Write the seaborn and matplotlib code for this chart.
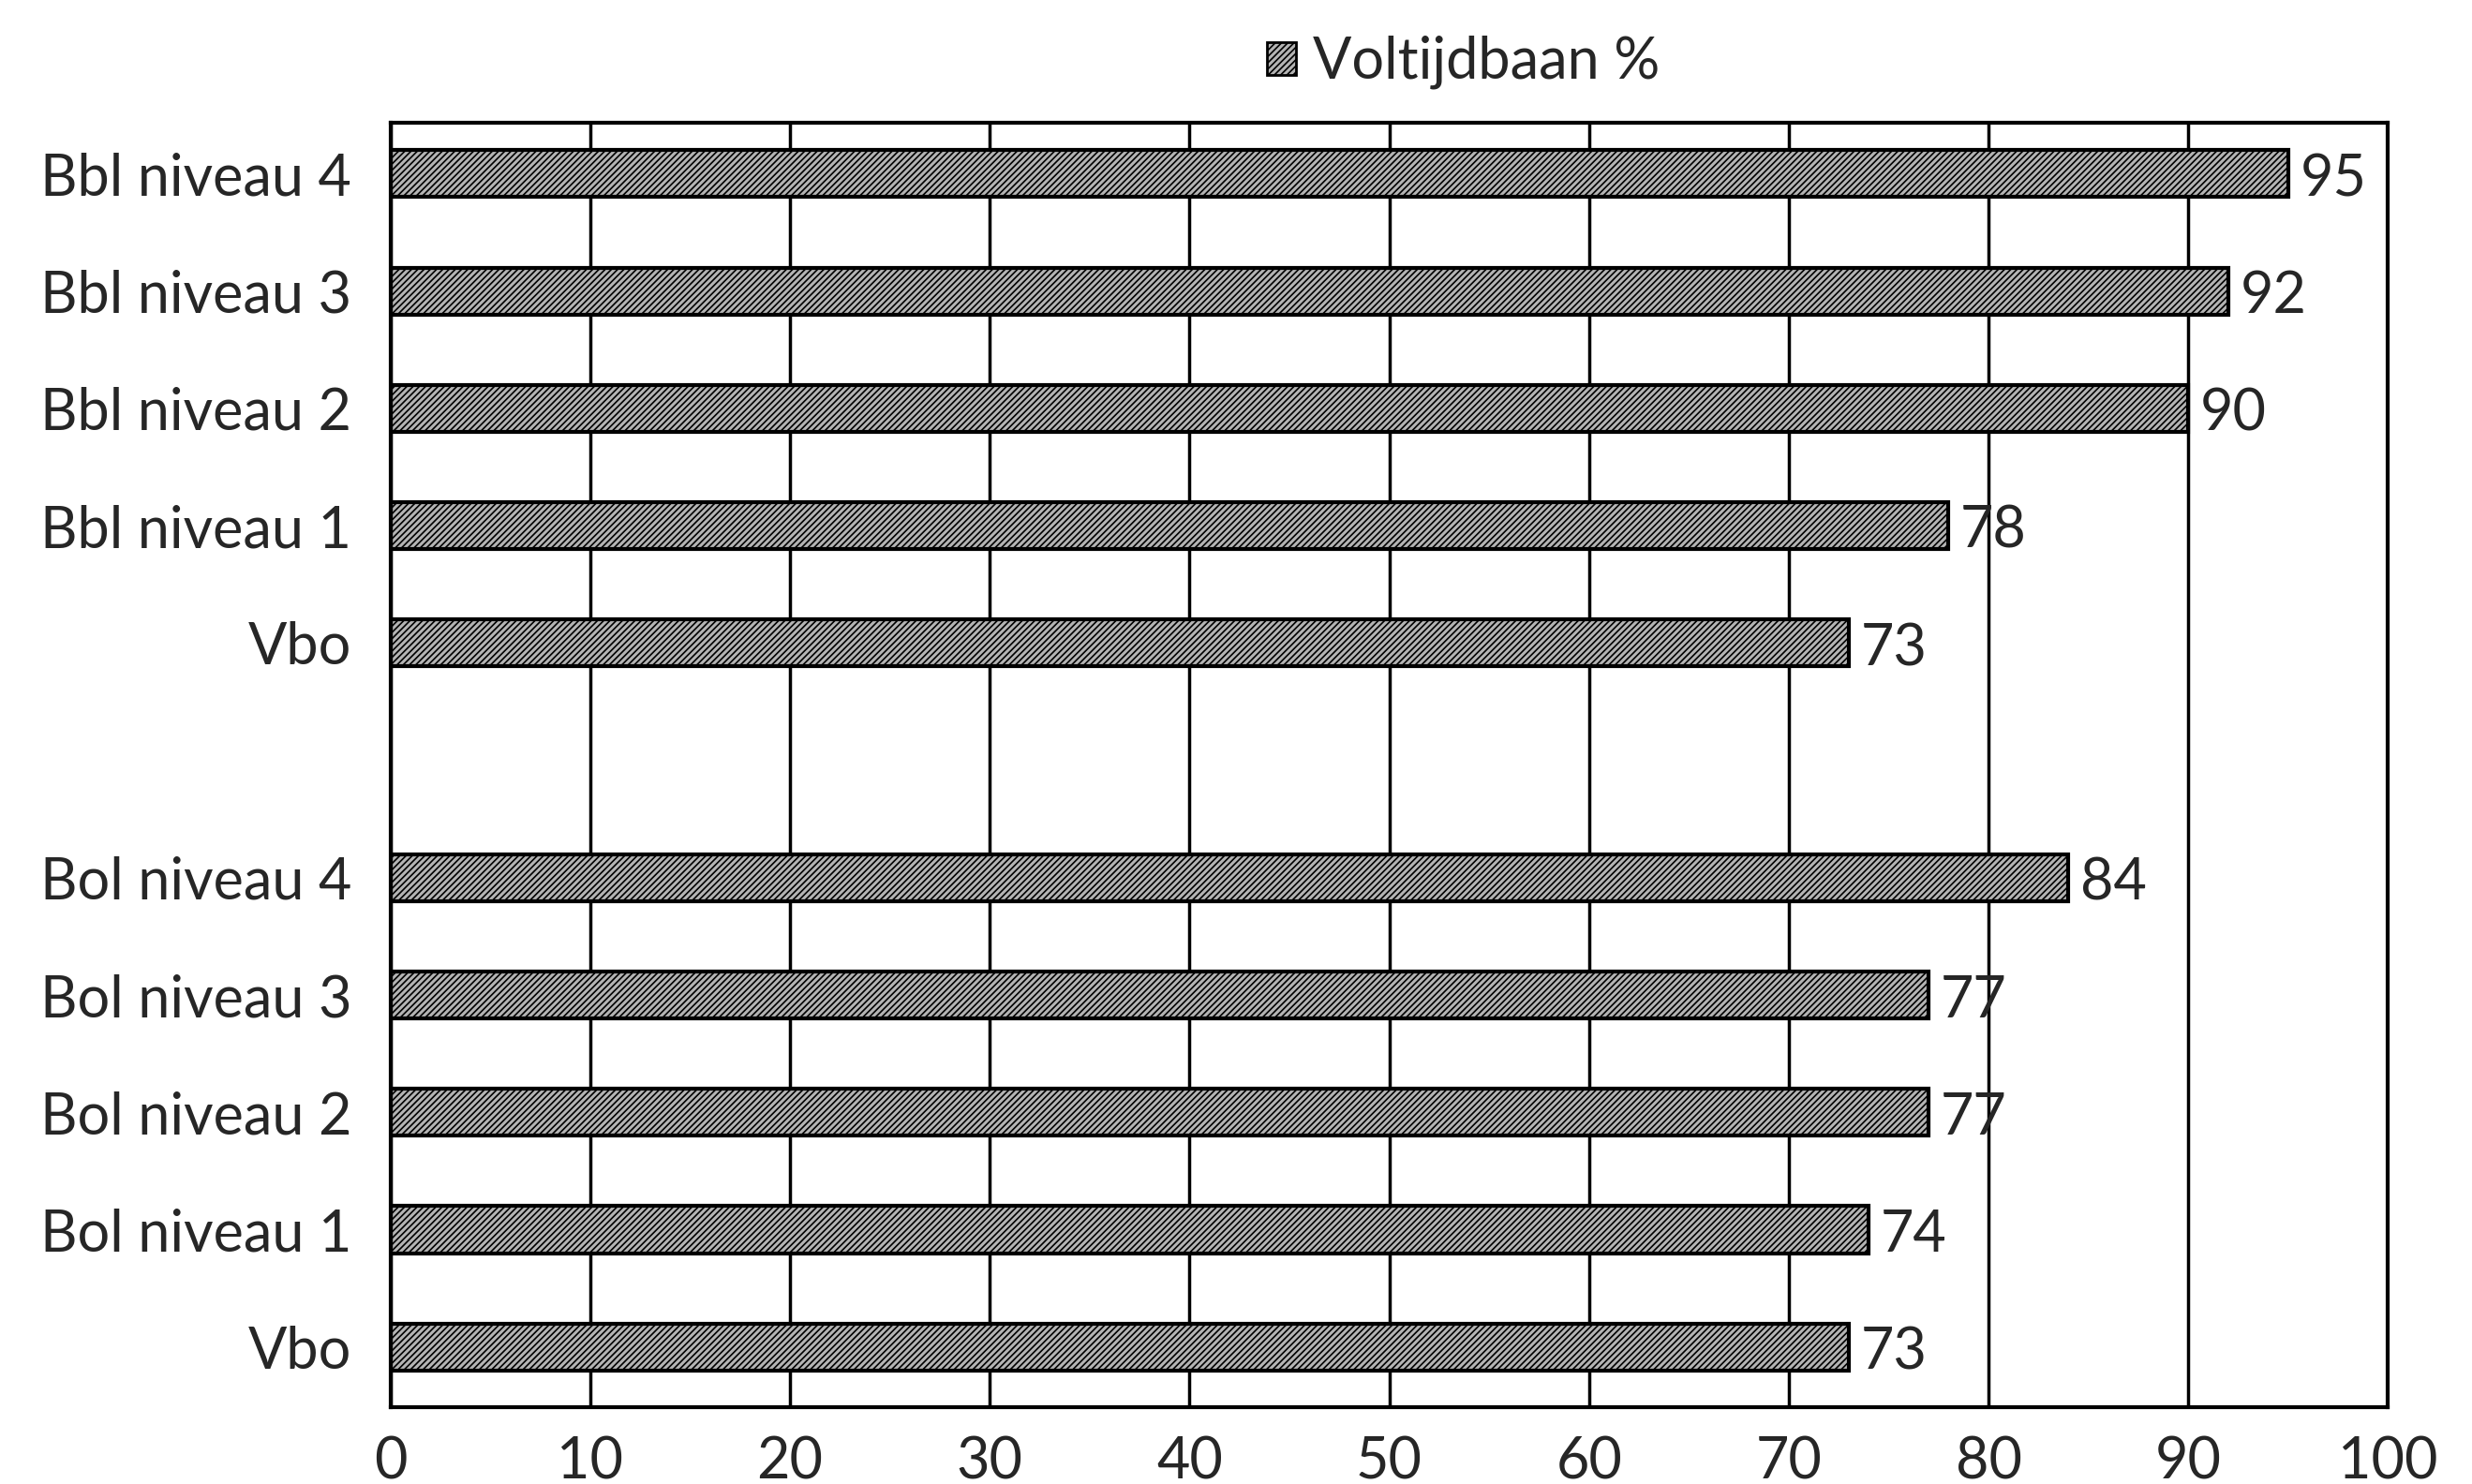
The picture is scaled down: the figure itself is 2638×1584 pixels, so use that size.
import numpy as np
import pandas as pd
import matplotlib
matplotlib.use("Agg")
import matplotlib.pyplot as plt
from matplotlib.patches import Patch
import seaborn as sns

# categories top to bottom, "" is the empty slot between the two groups
labels = ["Bbl niveau 4", "Bbl niveau 3", "Bbl niveau 2", "Bbl niveau 1", "Vbo",
          "",
          "Bol niveau 4", "Bol niveau 3", "Bol niveau 2", "Bol niveau 1", "Vbo"]
values = [95, 92, 90, 78, 73, np.nan, 84, 77, 77, 74, 73]
x_ticks = [0, 10, 20, 30, 40, 50, 60, 70, 80, 90, 100]
series_name = "Voltijdbaan %"

ids = [f"c{i}" for i in range(len(labels))]
df = pd.DataFrame({"cat": ids, "val": values})

sns.set_style("white")
plt.rcParams["font.family"] = ["Lato", "DejaVu Sans"]
plt.rcParams["hatch.linewidth"] = 1.2
plt.rcParams["hatch.color"] = "#2a2a2a"

fig = plt.figure(figsize=(26.38, 15.84), dpi=100)
ax = fig.add_axes([0.158, 0.052, 0.808, 0.865])

sns.barplot(data=df, x="val", y="cat", order=ids, orient="h", ax=ax,
            color="#b4b4b4", edgecolor="black", linewidth=3, hatch="/////",
            width=0.4, saturation=1)

# value labels right of each bar
for i, v in enumerate(values):
    if np.isnan(v):
        continue
    ax.text(v + 0.6, i + 0.05, f"{v:.0f}", va="center", ha="left", fontsize=44)

ax.set_xlim(0, 100)
ax.set_ylim(10.51, -0.43)
ax.set_xticks(x_ticks)
ax.set_xticklabels([str(t) for t in x_ticks], fontsize=44)
ax.set_yticks(range(len(labels)))
ax.set_yticklabels(labels, fontsize=44)
ax.tick_params(axis="y", length=0, pad=30)
ax.tick_params(axis="x", length=0, pad=22)
ax.set_xlabel("")
ax.set_ylabel("")

ax.xaxis.grid(True, color="black", linewidth=2.5)
ax.yaxis.grid(False)
ax.set_axisbelow(True)
for s in ax.spines.values():
    s.set_visible(True)
    s.set_color("black")
    s.set_linewidth(3)

handle = Patch(facecolor="#b4b4b4", edgecolor="black", hatch="/////", linewidth=2)
fig.legend([handle], [series_name], loc="center", bbox_to_anchor=(0.592, 0.958),
           frameon=False, fontsize=44, handlelength=0.5, handleheight=0.5,
           handletextpad=0.3)

fig.savefig("out.png", dpi=100)
